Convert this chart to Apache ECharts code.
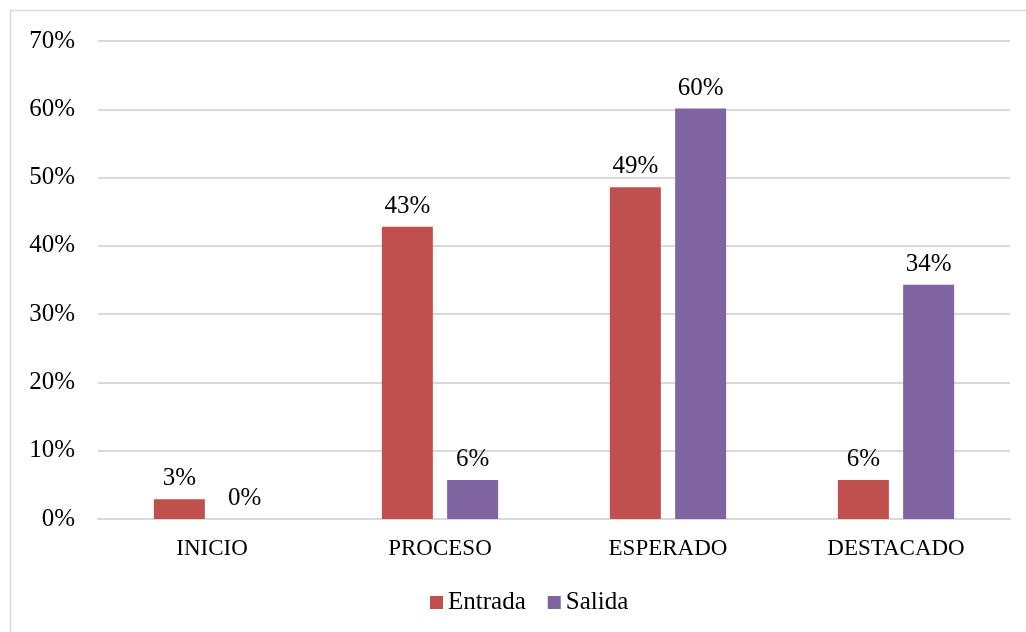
<!DOCTYPE html>
<html>
<head>
<meta charset="utf-8">
<script src="https://cdn.jsdelivr.net/npm/echarts@6/dist/echarts.min.js"></script>
<style>
  html, body { margin: 0; padding: 0; background: #fff; }
  #main { width: 1026px; height: 632px; }
</style>
</head>
<body>
<div id="main"></div>
<script>
// categorias y valores (en %)
const categories = ['INICIO', 'PROCESO', 'ESPERADO', 'DESTACADO'];
const entrada = [2.9, 42.8, 48.6, 5.7];
const salida = [0, 5.7, 60.1, 34.3];
const yTicks = [0, 10, 20, 30, 40, 50, 60, 70];

const chart = echarts.init(document.getElementById('main'));
const font = 'Liberation Serif';

const labelOpt = {
    show: true,
    position: 'top',
    distance: 8,
    color: '#000',
    fontFamily: font,
    fontSize: 25,
    formatter: function (p) {
        return Math.round(p.value) + '%';
    }
};

const option = {
    backgroundColor: '#fff',
    animation: false,
    graphic: [{
        type: 'rect',
        shape: { x: 10.5, y: 10.5, width: 1030, height: 640 },
        style: { fill: 'none', stroke: '#d9d9d9', lineWidth: 1.5 },
        z: -1
    }],
    grid: {
        left: 98,
        right: 16,
        top: 41,
        bottom: 113
    },
    legend: {
        bottom: 12,
        left: 425,
        itemWidth: 13,
        itemHeight: 13,
        itemGap: 22,
        icon: 'rect',
        textStyle: { fontFamily: font, fontSize: 25, color: '#000' },
        data: ['Entrada', 'Salida']
    },
    xAxis: {
        type: 'category',
        data: categories,
        axisLine: { lineStyle: { color: '#d9d9d9', width: 2 } },
        axisTick: { show: false },
        axisLabel: { color: '#000', fontFamily: font, fontSize: 23, margin: 18 }
    },
    yAxis: {
        type: 'value',
        min: yTicks[0],
        max: yTicks[yTicks.length - 1],
        interval: 10,
        axisLine: { show: false },
        axisTick: { show: false },
        splitLine: { lineStyle: { color: '#d9d9d9', width: 2 } },
        axisLabel: {
            color: '#000',
            fontFamily: font,
            fontSize: 25,
            margin: 23,
            formatter: '{value}%'
        }
    },
    series: [{
        name: 'Entrada',
        type: 'bar',
        data: entrada,
        barWidth: 51,
        barGap: '28%',
        itemStyle: { color: '#C0504D' },
        label: labelOpt
    }, {
        name: 'Salida',
        type: 'bar',
        data: salida,
        barWidth: 51,
        itemStyle: { color: '#8064A2' },
        label: labelOpt
    }]
};

chart.setOption(option);
</script>
</body>
</html>
